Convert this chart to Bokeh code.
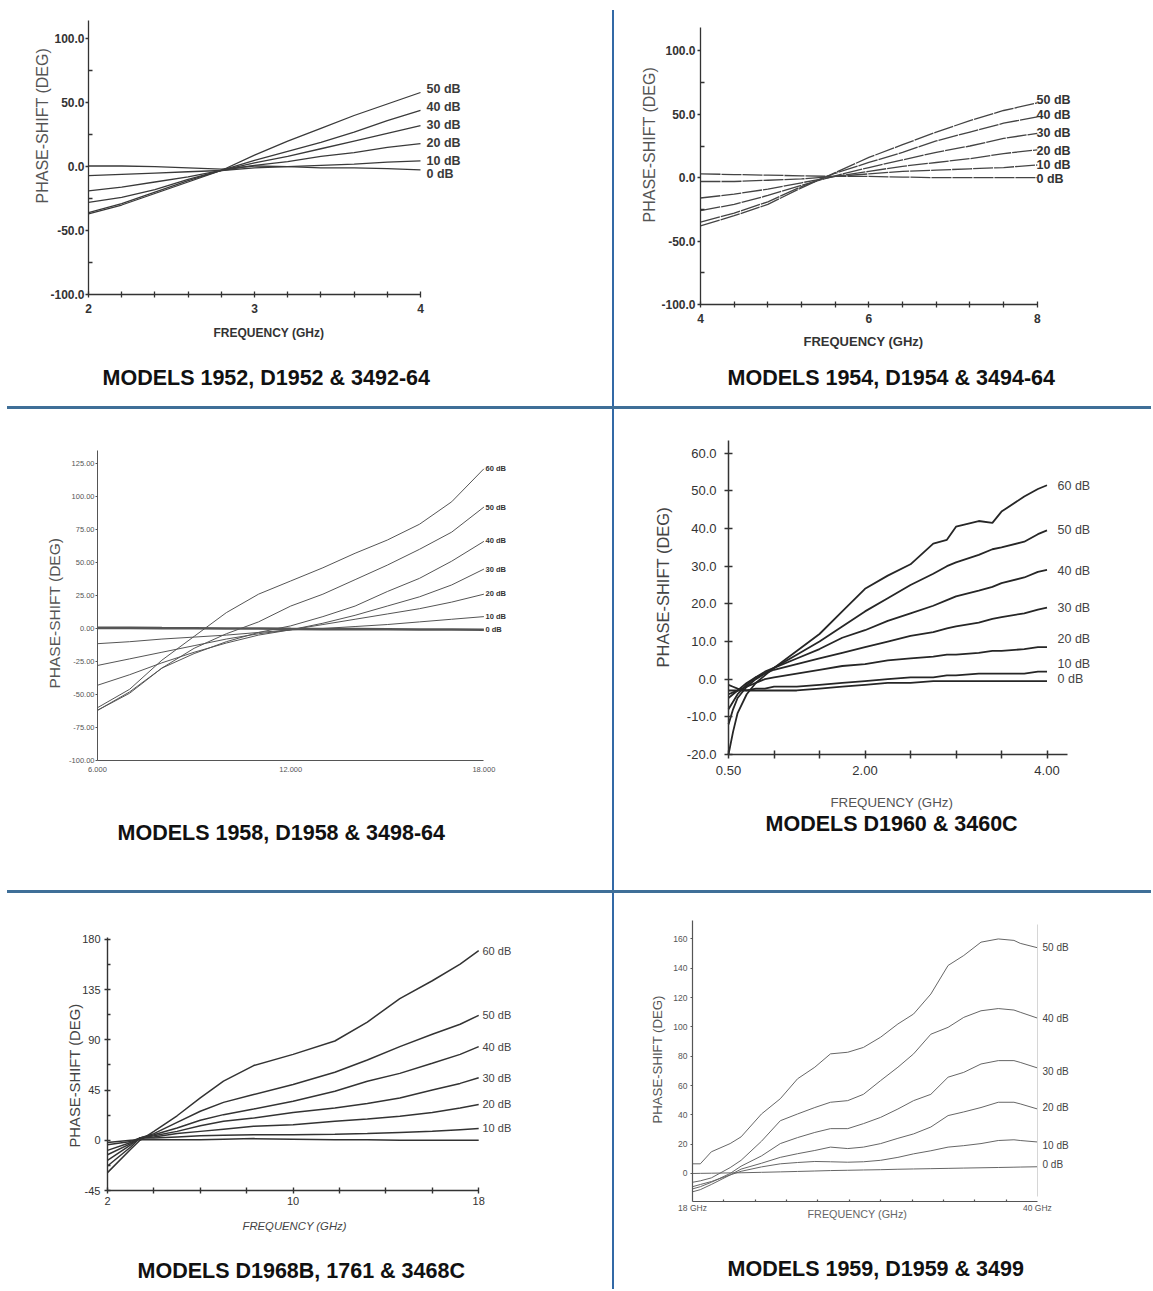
import math
from bokeh.plotting import figure
from bokeh.layouts import column, row
from bokeh.models import (Range1d, FixedTicker, NumeralTickFormatter, Label,
                          LinearAxis, Div)
from bokeh.core.properties import value
from bokeh.embed import file_html
from bokeh.resources import INLINE

# ---------------------------------------------------------------- data
# Panel 1 : MODELS 1952, D1952 & 3492-64
p1_title = "MODELS  1952, D1952 & 3492-64"
p1_freq = [2.0, 2.2, 2.4, 2.6, 2.8, 3.0, 3.2, 3.4, 3.6, 3.8, 4.0]
p1_50 = [-37, -30, -21, -12, -3, 9, 20, 30, 40, 49, 58]
p1_40 = [-36, -29, -20, -11, -3, 5, 12, 19, 27, 36, 44]
p1_30 = [-28, -24, -18, -10, -3, 3, 8, 14, 20, 26, 32]
p1_20 = [-19, -16, -12, -8, -3, 1, 4, 8, 11, 15, 18]
p1_10 = [-7, -6, -5, -4, -3, -1, 0, 1, 2, 3.5, 4.5]
p1_0 = [0.5, 0.5, 0, -1, -2, 0.5, 0, -1, -1, -1.5, -2.5]
p1_names = ["50 dB", "40 dB", "30 dB", "20 dB", "10 dB", "0 dB"]
p1_yticks = [-100, -50, 0, 50, 100]
p1_yminor = [-75, -25, 25, 75]
p1_xticks = [2, 3, 4]
p1_xminor = [2.2, 2.4, 2.6, 2.8, 3.2, 3.4, 3.6, 3.8]

# Panel 2 : MODELS 1954, D1954 & 3494-64
p2_title = "MODELS  1954, D1954 & 3494-64"
p2_freq = [4.0, 4.4, 4.8, 5.2, 5.6, 6.0, 6.4, 6.8, 7.2, 7.6, 8.0]
p2_50 = [-38, -30, -21, -8, 4, 16, 26, 36, 45, 53, 59]
p2_40 = [-35, -28, -19, -7, 3.5, 12, 20, 29, 36, 43, 48]
p2_30 = [-26, -21, -14, -6, 1.5, 8, 14, 20, 25, 31, 35]
p2_20 = [-16, -13, -9, -4, 1, 5, 9, 12, 15, 19, 22]
p2_10 = [-3, -3, -2, -1, 1, 3, 5, 6, 7, 8, 10]
p2_0 = [3, 2.5, 2, 1.5, 1, 1, 0.5, 0, 0, 0, 0]
p2_names = ["50 dB", "40 dB", "30 dB", "20 dB", "10 dB", "0 dB"]
p2_yticks = [-100, -50, 0, 50, 100]
p2_yminor = [-75, -25, 25, 75]
p2_xticks = [4, 6, 8]
p2_xminor = [4.4, 4.8, 5.2, 5.6, 6.4, 6.8, 7.2, 7.6]

# Panel 3 : MODELS 1958, D1958 & 3498-64
p3_title = "MODELS  1958, D1958 & 3498-64"
p3_freq = [6, 7, 8, 9, 10, 11, 12, 13, 14, 15, 16, 17, 18]
p3_60 = [-60, -46, -24, -6, 12, 26, 36, 46, 57, 67, 79, 96, 121]
p3_50 = [-62, -49, -30, -15, -4, 5, 17, 26, 37, 48, 60, 73, 92]
p3_40 = [-62, -48, -30, -19, -10, -3, 2, 9, 17, 28, 38, 51, 66]
p3_30 = [-43, -35, -26, -18, -11, -5, -1, 4, 10, 17, 24, 33, 45]
p3_20 = [-28, -23, -18, -13, -8, -4, -1, 3, 7, 11, 15, 20, 26]
p3_10 = [-11.5, -10, -8, -6.5, -5, -3, -1, 0, 1.5, 3, 5, 7, 9]
p3_0 = [0.5, 0.5, 0.3, 0.2, 0, 0, -0.3, -0.5, -0.5, -0.6, -0.8, -0.8, -1]
p3_names = ["60 dB", "50 dB", "40 dB", "30 dB", "20 dB", "10 dB", "0 dB"]
p3_yticks = [-100, -75, -50, -25, 0, 25, 50, 75, 100, 125]
p3_xticks = [6, 12, 18]

# Panel 4 : MODELS D1960 & 3460C
p4_title = "MODELS  D1960 & 3460C"
p4_freq = [0.5, 0.55, 0.6, 0.7, 0.8, 0.9, 1.0, 1.25, 1.5, 1.75, 2.0, 2.25,
           2.5, 2.75, 2.9, 3.0, 3.25, 3.4, 3.5, 3.75, 3.9, 4.0]
p4_60 = [-20, -14, -9, -4, -1, 1, 3, 7.5, 12, 18, 24, 27.5, 30.5, 36, 37, 40.5,
         42, 41.5, 44.5, 48.5, 50.5, 51.5]
p4_50 = [-12, -8, -5, -2, 0, 1.5, 3, 6.5, 10, 14, 18, 21.5, 25, 28, 30, 31,
         33, 34.5, 35, 36.5, 38.5, 39.5]
p4_40 = [-8, -6, -4, -1.5, 0.5, 2, 3, 5.5, 8, 11, 13, 15.5, 17.5, 19.5, 21,
         22, 23.5, 24.5, 25.5, 27, 28.5, 29]
p4_30 = [-5, -4, -3, -1, 0.5, 1.5, 2.5, 4, 5.5, 7, 8.5, 10, 11.5, 12.5, 13.5,
         14, 15, 16, 16.5, 17.5, 18.5, 19]
p4_20 = [-4, -3.5, -3, -2, -1, 0, 0.5, 1.5, 2.5, 3.5, 4, 5, 5.5, 6, 6.5, 6.5,
         7, 7.5, 7.5, 8, 8.5, 8.5]
p4_10 = [-3, -3, -3, -3, -2.5, -2.5, -2, -2, -1.5, -1, -0.5, 0, 0.5, 0.5, 1,
         1, 1.5, 1.5, 1.5, 1.5, 2, 2]
p4_0 = [-1.5, -2, -2.5, -3, -3, -3, -3, -3, -2.5, -2, -1.5, -1, -1, -0.5,
        -0.5, -0.5, -0.5, -0.5, -0.5, -0.5, -0.5, -0.5]
p4_names = ["60 dB", "50 dB", "40 dB", "30 dB", "20 dB", "10 dB", "0 dB"]
p4_yticks = [-20, -10, 0, 10, 20, 30, 40, 50, 60]
p4_xticks = [0.5, 2.0, 4.0]
p4_xminor = [1.0, 1.5, 2.5, 3.0, 3.5]

# Panel 5 : MODELS D1968B, 1761 & 3468C
p5_title = "MODELS  D1968B, 1761 & 3468C"
p5_freq = [2, 3, 3.4, 4, 5, 6, 7, 8.3, 10, 11.8, 13.2, 14.6, 16, 17.2, 18]
p5_60 = [-29, -8, 0, 8, 22, 38, 53, 67, 77, 89, 106, 127, 143, 158, 170]
p5_50 = [-23, -6, 2, 6, 16, 26, 34, 41, 50, 61, 72, 84, 95, 104, 112]
p5_40 = [-18, -4, 2, 5, 11, 18, 23, 28, 35, 44, 53, 60, 69, 77, 84]
p5_30 = [-13, -3, 2, 4, 8, 13, 17, 20, 25, 29, 33, 38, 45, 51, 56]
p5_20 = [-9, -2, 2, 3, 6, 8, 10, 12.5, 14, 17, 19, 21.5, 25, 29, 32]
p5_10 = [-4, -1, 2, 2, 3, 4, 4.5, 5, 5, 5.5, 6, 7, 8, 9.5, 10.5]
p5_0 = [-2, 0, 0.5, 0.5, 0.5, 0.5, 1, 1.5, 1, 0.5, 0.5, 0, 0, 0, 0]
p5_names = ["60 dB", "50 dB", "40 dB", "30 dB", "20 dB", "10 dB"]
p5_yticks = [-45, 0, 45, 90, 135, 180]
p5_yminor = [-22.5, 22.5, 67.5, 112.5, 157.5]
p5_xticks = [2, 10, 18]
p5_xminor = [4, 6, 8, 12, 14, 16]

# Panel 6 : MODELS 1959, D1959 & 3499
p6_title = "MODELS  1959, D1959 & 3499"
p6_freq = [18, 18.5, 19.2, 20.4, 21.1, 22.4, 23.6, 24.7, 25.8, 26.8, 27.9,
           28.9, 30.0, 31.1, 32.1, 33.2, 34.3, 35.3, 36.4, 37.5, 38.5, 38.9, 40]
p6_50 = [6.6, 6.6, 14.8, 20.4, 25, 40.6, 51, 64.6, 72.5, 81.6, 82.7, 86, 93,
         102, 108.8, 122.4, 141.9, 148.7, 157.8, 160, 159, 157, 154]
p6_40 = [-6, -5, -3, 4, 9, 22, 36, 40.6, 45, 48.6, 49.7, 54, 63.4, 72.5, 81.6,
         95, 99.7, 106.5, 111, 112.5, 111.5, 110, 106]
p6_30 = [-10.5, -9, -6, 0, 5, 12, 20.4, 24.5, 28, 30.6, 30.6, 34, 38.3, 44,
         49.7, 54, 65.7, 69, 74.7, 77, 77, 75.8, 72]
p6_20 = [-12.5, -11, -7.5, -1, 3, 7, 11, 13.5, 15.7, 18, 17, 18, 20.4, 24, 27,
         31.7, 39.5, 42, 45, 48.6, 48.6, 47.5, 44]
p6_10 = [-9, -7.5, -5.5, -1, 1.5, 4.5, 6.6, 7.5, 8.2, 8, 7.7, 8, 9, 11, 13.4,
         15.5, 18, 19, 20.4, 22.5, 23, 22.5, 21.5]
p6_0 = [0, 0.1, 0.2, 0.4, 0.5, 0.8, 1.1, 1.4, 1.7, 2, 2.2, 2.4, 2.6, 2.9, 3.1,
        3.3, 3.5, 3.7, 3.9, 4.1, 4.3, 4.4, 4.6]
p6_names = ["50 dB", "40 dB", "30 dB", "20 dB", "10 dB", "0 dB"]
p6_yticks = [0, 20, 40, 60, 80, 100, 120, 140, 160]
p6_xticks = [18, 40]
p6_xminor = [20, 22, 24, 26, 28, 30, 32, 34, 36, 38]
p6_xtick_labels = {18: "18 GHz", 40: "40 GHz"}

Y_LABEL = "PHASE-SHIFT (DEG)"
X_LABEL = "FREQUENCY (GHz)"

# ---------------------------------------------------------------- helpers
FONT = "Liberation Sans"
HLINE = "#3f6f98"
VLINE = "#3269a6"
TITLE_SIZE = 21.5
TITLE_COLOR = "#111111"

COL1_X, COL1_W = 0, 612
COL2_X, COL2_W = 614, 537
ROW1_Y, ROW1_H = 0, 406
ROW2_Y, ROW2_H = 409, 481
ROW3_Y, ROW3_H = 893, 396


class Panel:
    """A figure whose frame fills the whole cell; axes are pinned with
    fixed_location so that their position on the page is exact."""

    def __init__(self, cell, origin, scale):
        cx, cy, cw, ch = cell
        fl, fb, x0, y0 = origin          # page position of data point (x0, y0)
        sx, sy = scale                   # pixels per data unit
        self.fl, self.fb, self.x0, self.y0, self.sx, self.sy = fl, fb, x0, y0, sx, sy
        p = figure(width=cw, height=ch,
                   x_range=Range1d(x0 + (cx - fl) / sx, x0 + (cx + cw - fl) / sx),
                   y_range=Range1d(y0 + (fb - (cy + ch)) / sy, y0 + (fb - cy) / sy),
                   min_border=0, output_backend="svg", toolbar_location=None,
                   title_location=None)
        p.outline_line_color = None
        p.xgrid.visible = False
        p.ygrid.visible = False
        p.background_fill_color = "white"
        p.border_fill_color = "white"
        p.xaxis[0].fixed_location = y0
        p.yaxis[0].fixed_location = x0
        self.p = p

    def dx(self, px):
        return self.x0 + (px - self.fl) / self.sx

    def dy(self, py):
        return self.y0 + (self.fb - py) / self.sy

    def text(self, px, py, txt, size, angle=0.0, style="normal",
             color="#333333", align="left"):
        self.p.add_layout(Label(x=self.dx(px), y=self.dy(py), text=txt,
                                angle=angle, text_align=align,
                                text_baseline="middle", text_font=FONT,
                                text_font_size=f"{size}px",
                                text_font_style=style, text_color=color))

    def ylabel(self, cx_px, bottom_px, size, color="#555555"):
        self.text(cx_px, bottom_px, Y_LABEL, size, angle=math.pi / 2, color=color)

    def title(self, txt, left_px, cy_px):
        self.text(left_px, cy_px, txt, TITLE_SIZE, style="bold", color=TITLE_COLOR)


def style_axis(ax, ticks, minor, size, fmt=None, overrides=None, color="#333333",
               lw=1.3, t_in=0, t_out=3, m_in=0, m_out=0, standoff=3,
               bounds=None, weight="normal"):
    ax.ticker = FixedTicker(ticks=ticks, minor_ticks=minor)
    if fmt is not None:
        ax.formatter = NumeralTickFormatter(format=fmt)
    if overrides is not None:
        ax.major_label_overrides = overrides
    ax.axis_line_color = color
    ax.axis_line_width = lw
    ax.major_tick_line_color = color
    ax.major_tick_line_width = lw
    ax.minor_tick_line_color = color
    ax.minor_tick_line_width = lw
    ax.major_tick_in = t_in
    ax.major_tick_out = t_out
    ax.minor_tick_in = m_in
    ax.minor_tick_out = m_out
    ax.major_label_standoff = standoff
    ax.major_label_text_font = FONT
    ax.major_label_text_font_size = f"{size}px"
    ax.major_label_text_color = color
    ax.major_label_text_font_style = weight
    if bounds is not None:
        ax.bounds = bounds


def draw_series(pn, freq, series, names, label_px, nudges, color, width, size,
                weight="normal", label_color=None, widths=None, dash="solid"):
    p = pn.p
    for i, s in enumerate(series):
        w = widths[i] if widths is not None else width
        p.line(freq, s, line_color=color, line_width=w, line_dash=dash)
    ys = [series[i][-1] + nudges[i] for i in range(len(names))]
    p.text(x=[pn.dx(label_px)] * len(names), y=ys, text=names,
           text_font=value(FONT), text_font_size=value(f"{size}px"),
           text_font_style=weight, text_align="left", text_baseline="middle",
           text_color=label_color or color)


def vsep(h, top_gap=0):
    if top_gap:
        bg = f"linear-gradient(to bottom, #ffffff {top_gap}px, {VLINE} {top_gap}px)"
    else:
        bg = VLINE
    return Div(text="", width=2, height=h,
               styles={"background": bg, "margin": "0", "padding": "0"})


def hsep(w):
    bg = f"linear-gradient(to right, #ffffff 7px, {HLINE} 7px)"
    return Div(text="", width=w, height=3,
               styles={"background": bg, "margin": "0", "padding": "0"})


C1 = (COL1_X, ROW1_Y, COL1_W, ROW1_H)
C2 = (COL2_X, ROW1_Y, COL2_W, ROW1_H)
C3 = (COL1_X, ROW2_Y, COL1_W, ROW2_H)
C4 = (COL2_X, ROW2_Y, COL2_W, ROW2_H)
C5 = (COL1_X, ROW3_Y, COL1_W, ROW3_H)
C6 = (COL2_X, ROW3_Y, COL2_W, ROW3_H)

# ---------------------------------------------------------------- panel 1
P1 = Panel(C1, (88, 294, 2.0, -100.0), (166.0, 1.2785))
style_axis(P1.p.xaxis[0], p1_xticks, p1_xminor, 12, fmt="0", t_in=3, t_out=3,
           m_in=3, m_out=3, standoff=6, bounds=(2, 4), weight="bold")
style_axis(P1.p.yaxis[0], p1_yticks, p1_yminor, 12, fmt="0.0", t_in=0, t_out=3,
           m_in=4, m_out=0, standoff=1, bounds=(-100, P1.dy(20)), weight="bold")
draw_series(P1, p1_freq, [p1_50, p1_40, p1_30, p1_20, p1_10, p1_0], p1_names,
            426, [2.5, 2.4, 0.6, 0.8, 0.0, -3.5], "#3a3a3a", 1.3, 12.5,
            weight="bold")
P1.ylabel(42, 203, 16)
P1.text(213, 332, X_LABEL, 12, style="bold")
P1.title(p1_title, 102, 377)

# ---------------------------------------------------------------- panel 2
P2 = Panel(C2, (700, 304, 4.0, -100.0), (84.2, 1.268))
style_axis(P2.p.xaxis[0], p2_xticks, p2_xminor, 12, fmt="0", t_in=3, t_out=3,
           m_in=3, m_out=3, standoff=6, bounds=(4, 8), weight="bold")
style_axis(P2.p.yaxis[0], p2_yticks, p2_yminor, 12, fmt="0.0", t_in=0, t_out=3,
           m_in=4, m_out=0, standoff=2, bounds=(-100, P2.dy(27)), weight="bold")
draw_series(P2, p2_freq, [p2_50, p2_40, p2_30, p2_20, p2_10, p2_0], p2_names,
            1036, [2.5, 1.7, 0.5, -0.7, 0.3, -0.8], "#444444", 1.3, 12.5,
            weight="bold", label_color="#333333", dash="20 1")
P2.ylabel(649, 222, 16)
P2.text(803, 341, X_LABEL, 13, style="bold")
P2.title(p2_title, 727, 377)

# ---------------------------------------------------------------- panel 3
P3 = Panel(C3, (97, 760, 6.0, -100.0), (32.2, 1.32))
style_axis(P3.p.xaxis[0], p3_xticks, [], 7.5, fmt="0.000", color="#555555",
           lw=1.0, t_in=0, t_out=0, standoff=6, bounds=(6, 18))
style_axis(P3.p.yaxis[0], p3_yticks, [], 7.5, fmt="0.00", color="#555555",
           lw=1.0, t_in=0, t_out=2, standoff=1, bounds=(-100, P3.dy(450)))
draw_series(P3, p3_freq, [p3_60, p3_50, p3_40, p3_30, p3_20, p3_10, p3_0],
            p3_names, 485, [0, 0, 0.5, 0, 0.5, 0, 0], "#555555", 1.0, 7.5,
            weight="bold", label_color="#333333",
            widths=[1.0, 1.0, 1.0, 1.0, 1.0, 1.0, 2.6])
P3.ylabel(54, 688, 15.5)
P3.title(p3_title, 117, 832)

# ---------------------------------------------------------------- panel 4
P4 = Panel(C4, (728, 754, 0.5, -20.0), (91.0, 3.766))
style_axis(P4.p.xaxis[0], p4_xticks, p4_xminor, 13, fmt="0.00", color="#333333",
           lw=1.5, t_in=4, t_out=4, m_in=4, m_out=4, standoff=7,
           bounds=(0.5, 4.22))
style_axis(P4.p.yaxis[0], p4_yticks, [], 13, fmt="0.0", color="#333333",
           lw=1.5, t_in=4, t_out=4, standoff=8, bounds=(-20, P4.dy(440)))
draw_series(P4, p4_freq, [p4_60, p4_50, p4_40, p4_30, p4_20, p4_10, p4_0],
            p4_names, 1057, [-0.3, 0.2, -0.3, 0, 2.2, 2.1, 0.6], "#262626",
            1.8, 12.5, label_color="#444444")
P4.ylabel(662, 667, 16.5, color="#444444")
P4.text(830, 802, X_LABEL, 13.3, color="#555555")
P4.title(p4_title, 765, 823)

# ---------------------------------------------------------------- panel 5
P5 = Panel(C5, (107, 1190, 2.0, -45.0), (23.2, 1.1156))
style_axis(P5.p.xaxis[0], p5_xticks, p5_xminor, 11, fmt="0", color="#333333",
           lw=1.4, t_in=3, t_out=3, m_in=3, m_out=3, standoff=3, bounds=(2, 18))
style_axis(P5.p.yaxis[0], p5_yticks, p5_yminor, 11, fmt="0", color="#333333",
           lw=1.4, t_in=3, t_out=3, m_in=3, m_out=0, standoff=4,
           bounds=(-45, P5.dy(937)))
draw_series(P5, p5_freq, [p5_60, p5_50, p5_40, p5_30, p5_20, p5_10, p5_0],
            p5_names, 482, [0, 0, 0, 0, 0.5, 0.5], "#333333", 1.5, 11,
            label_color="#444444")
P5.ylabel(74, 1147, 14.8, color="#444444")
P5.text(242, 1225, X_LABEL, 11.3, style="italic", color="#444444")
P5.title(p5_title, 137, 1270)

# ---------------------------------------------------------------- panel 6
P6 = Panel(C6, (692, 1201, 18.0, -19.1), (15.68, 1.466))
style_axis(P6.p.xaxis[0], p6_xticks, p6_xminor, 8.5, overrides=p6_xtick_labels,
           color="#555555", lw=1.2, t_in=0, t_out=0, m_in=2, m_out=0,
           standoff=1, bounds=(18, 40))
style_axis(P6.p.yaxis[0], p6_yticks, [], 8.5, fmt="0", color="#555555",
           lw=1.2, t_in=0, t_out=2, standoff=3, bounds=(-19.1, P6.dy(920)))
# faint right-hand frame line of the original chart, drawn as a bare axis
right_edge = LinearAxis(fixed_location=40, bounds=(P6.dy(1196), P6.dy(924)),
                        axis_line_color="#d6d6d6", axis_line_width=1,
                        major_tick_line_color=None, minor_tick_line_color=None,
                        major_label_text_font_size="0px",
                        ticker=FixedTicker(ticks=[]))
P6.p.add_layout(right_edge, "right")
draw_series(P6, p6_freq, [p6_50, p6_40, p6_30, p6_20, p6_10, p6_0], p6_names,
            1042, [0.4, -0.5, -2.2, 1.2, -2.4, 1.3], "#666666", 1.0, 10,
            label_color="#444444")
P6.ylabel(657, 1123, 13.2)
P6.text(807, 1213, X_LABEL, 10.8, color="#666666")
P6.title(p6_title, 727, 1268)

# ---------------------------------------------------------------- layout
TOTAL_W = COL1_W + 2 + COL2_W
layout = column(
    row(P1.p, vsep(ROW1_H, top_gap=10), P2.p, spacing=0),
    hsep(TOTAL_W),
    row(P3.p, vsep(ROW2_H), P4.p, spacing=0),
    hsep(TOTAL_W),
    row(P5.p, vsep(ROW3_H), P6.p, spacing=0),
    spacing=0,
)

open("out.html", "w").write(file_html(layout, INLINE, "Phase shift vs frequency"))
